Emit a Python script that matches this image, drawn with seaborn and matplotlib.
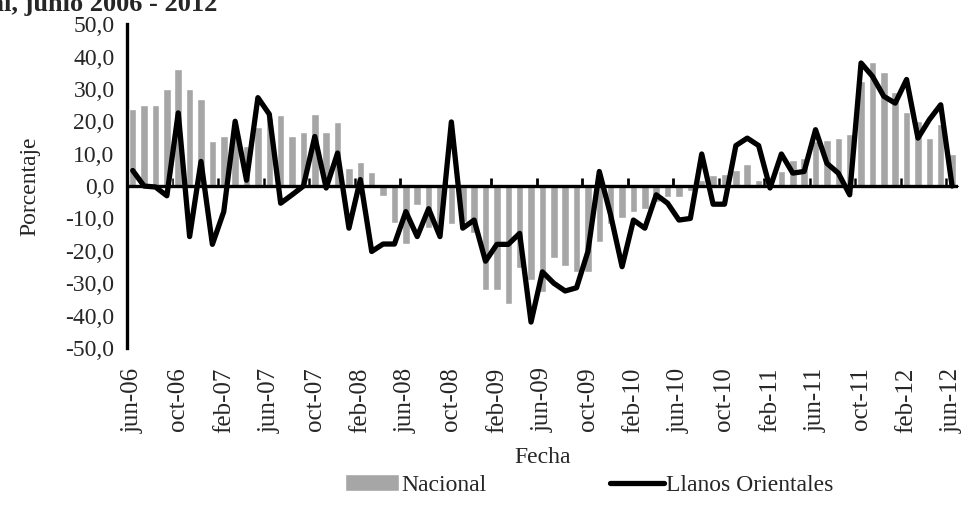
import numpy as np
import pandas as pd
import matplotlib
matplotlib.use("Agg")
import matplotlib.pyplot as plt
import seaborn as sns

# Monthly labels jun-06 .. jun-12
meses = ["ene", "feb", "mar", "abr", "may", "jun", "jul", "ago", "sep", "oct", "nov", "dic"]
fechas = []
for k in range(73):
    m = (5 + k) % 12
    a = 6 + (5 + k) // 12
    fechas.append("%s-%02d" % (meses[m], a))

nacional = [23.8, 25.0, 25.0, 30.0, 36.0, 30.0, 26.8, 13.8, 15.6, 16.0,
            12.5, 18.2, 21.0, 22.0, 15.6, 16.8, 22.4, 16.8, 19.8, 5.6,
            7.4, 4.3, -3.0, -11.5, -17.9, -6.0, -13.0, -12.0, -11.7, -11.0,
            -14.6, -32.1, -32.1, -36.5, -25.2, -29.0, -32.7, -22.1, -24.7, -26.5,
            -26.5, -17.2, -11.8, -10.0, -8.0, -7.0, -5.0, -3.5, -3.5, -1.5,
            2.0, 3.5, 3.7, 5.0, 6.7, 2.0, 2.0, 4.5, 8.1, 8.8,
            13.8, 14.3, 14.8, 16.0, 32.4, 38.3, 35.2, 29.0, 23.0, 20.0,
            14.8, 19.3, 10.0]

llanos = [4.8, 0.0, -0.3, -3.0, 22.6, -15.6, 7.6, -18.0, -7.9, 20.0,
          1.8, 27.3, 22.2, -5.3, -2.7, 0.0, 15.3, -0.6, 10.2, -13.0,
          2.0, -20.2, -17.9, -17.9, -7.9, -15.6, -7.0, -15.6, 19.8, -13.0,
          -10.5, -23.2, -18.0, -18.0, -14.6, -42.0, -26.5, -30.0, -32.4, -31.4,
          -20.2, 4.5, -9.0, -24.9, -10.5, -13.0, -2.7, -5.3, -10.5, -10.0,
          9.9, -5.6, -5.6, 12.5, 14.8, 12.5, -0.6, 9.9, 4.0, 4.5,
          17.4, 7.0, 4.0, -2.7, 38.0, 33.9, 27.7, 25.6, 32.9, 14.8,
          20.5, 25.1, 0.0]

df = pd.DataFrame({"Fecha": fechas, "Nacional": nacional, "Llanos Orientales": llanos})
df["pos"] = np.arange(len(df))

sns.set_style("white")
plt.rcParams["font.family"] = ["Liberation Serif", "DejaVu Serif"]

fig = plt.figure(figsize=(9.66, 5.08), dpi=100)
ax = fig.add_axes([0.1315, 0.315, 0.86, 0.6375])

sns.barplot(data=df, x="pos", y="Nacional", color="#a6a6a6", saturation=1,
            width=0.66, native_scale=True, ax=ax, label="Nacional")
ax.axhline(0, color="black", lw=2.4, zorder=3)
sns.lineplot(data=df, x="pos", y="Llanos Orientales", color="black", lw=3.8,
             ax=ax, label="Llanos Orientales", zorder=4)

ax.set_xlim(-0.5, len(df) - 0.5)
ax.set_ylim(-50, 50)
ax.set_yticks(np.arange(-50, 51, 10))
ax.set_yticklabels([("%.1f" % v).replace(".", ",") for v in np.arange(-50, 51, 10)], fontsize=17)
ax.set_xticks(df["pos"][::4])
ax.set_xticklabels(df["Fecha"][::4], rotation=90, fontsize=18)
ax.tick_params(axis="x", length=0, pad=14)
ax.tick_params(axis="y", length=6, width=2, direction="out", pad=3)

for s in ["top", "right", "bottom"]:
    ax.spines[s].set_visible(False)
ax.spines["left"].set_linewidth(2.4)
ax.spines["left"].set_color("black")

# tick marks on the zero line, between categories
zero = ax.secondary_xaxis(0.5)
zero.set_xticks(df["pos"][3::4] + 0.5, labels=[""] * len(df["pos"][3::4]))
zero.tick_params(length=6, width=2, direction="out", color="black")
zero.spines["bottom"].set_visible(False)

ax.set_xlabel("Fecha", fontsize=17, labelpad=10)
ax.set_ylabel("Porcentaje", fontsize=17, labelpad=18)

ax.get_legend().remove()
h, l = ax.get_legend_handles_labels()
order = [l.index("Nacional"), l.index("Llanos Orientales")]
fig.legend([h[i] for i in order], [l[i] for i in order], loc="center",
           bbox_to_anchor=(0.61, 0.045), ncol=2, frameon=False,
           fontsize=17, handlelength=2.3, columnspacing=5.2, handletextpad=0.1)

fig.text(0.225, 0.978, "Tasa de crecimiento anual, junio 2006 - 2012", ha="right", va="baseline",
         fontsize=19, fontweight="bold")

fig.savefig("out.png", dpi=100)
